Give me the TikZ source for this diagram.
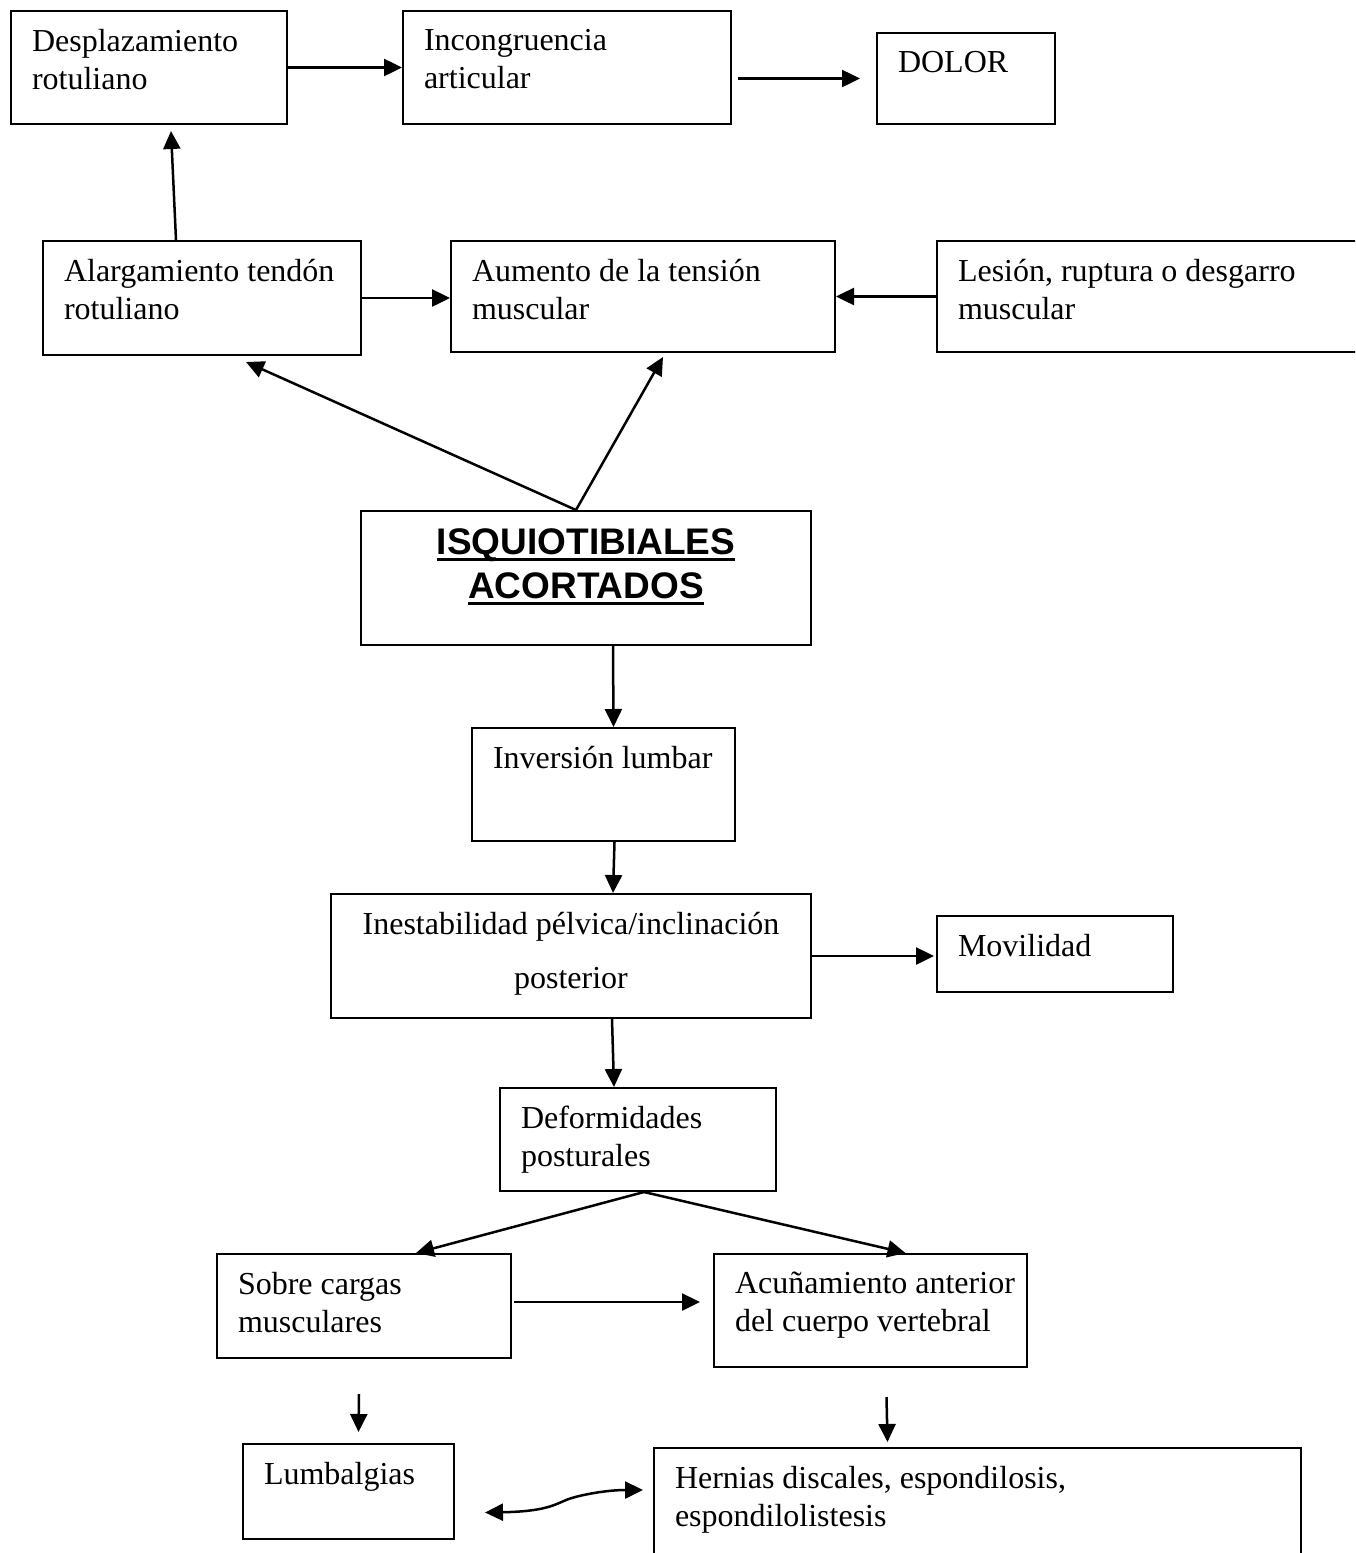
\documentclass[tikz,border=0pt]{standalone}
\usepackage{fontspec}
\setmainfont{Liberation Serif}
\newfontfamily\arial{Liberation Sans}
\usetikzlibrary{arrows.meta}

\tikzstyle{caja} = [draw, line width=2pt, inner xsep=0pt, inner ysep=18pt, anchor=north west]
\tikzstyle{arrow} = [line width=2.5pt,->,>={Triangle[length=18pt,width=17pt]}]

\newcommand{\cajatexto}[3]{\parbox[c][#2][t]{#1}{\raggedright\leftskip=21pt #3}}
\newcommand{\cajacentro}[3]{\parbox[c][#2][t]{#1}{\centering #3}}
\newcommand{\subrayado}[1]{\leavevmode\setbox0\hbox{#1}\rlap{\rule[-6pt]{\wd0}{3pt}}\box0}

\begin{document}
\begin{tikzpicture}[x=1pt, y=-1pt, font=\fontsize{32}{38}\selectfont]
\useasboundingbox (0,0) rectangle (1355,1553);
\clip (0,0) rectangle (1355,1553);

\node (despl) [caja] at (10,10) {\cajatexto{276pt}{77pt}{Desplazamiento\\rotuliano}};
\node (incong) [caja] at (402,10) {\cajatexto{328pt}{77pt}{Incongruencia\\articular}};
\node (dolor) [caja] at (876,32) {\cajatexto{178pt}{55pt}{DOLOR}};

\node (alarg) [caja] at (42,240) {\cajatexto{318pt}{78pt}{Alargamiento tendón\\rotuliano}};
\node (aumento) [caja] at (450,240) {\cajatexto{384pt}{75pt}{Aumento de la tensión\\muscular}};
\node (lesion) [caja] at (936,240) {\cajatexto{440pt}{75pt}{Lesión, ruptura o desgarro\\muscular}};

\node (isquio) [caja] at (360,510) {\cajacentro{450pt}{98pt}{\arial\bfseries\fontsize{37}{44}\selectfont
  \subrayado{ISQUIOTIBIALES}\\\subrayado{ACORTADOS}}};

\node (inversion) [caja] at (471,727) {\cajatexto{263pt}{77pt}{Inversión lumbar}};
\node (inest) [caja] at (330,893) {\cajacentro{480pt}{88pt}{Inestabilidad pélvica/inclinación\\[16pt]posterior}};
\node (movil) [caja] at (936,915) {\cajatexto{236pt}{40pt}{Movilidad}};
\node (deform) [caja] at (499,1087) {\cajatexto{276pt}{67pt}{Deformidades\\posturales}};

\node (sobre) [caja] at (216,1253) {\cajatexto{294pt}{68pt}{Sobre cargas\\musculares}};
\node (acun) [caja] at (713,1253) {\cajatexto{313pt}{77pt}{Acuñamiento anterior\\del cuerpo vertebral}};
\node (lumb) [caja] at (242,1443) {\cajatexto{211pt}{59pt}{Lumbalgias}};
\node (hernias) [caja] at (653,1447) {\cajatexto{647pt}{94pt}{Hernias discales, espondilosis,\\espondilolistesis}};

\draw [arrow] (despl.east) -- (incong.west);
\draw [arrow] ([shift={(6,11)}]incong.east) -- ([xshift=-16]dolor.west);
\draw [arrow] ([xshift=-26]alarg.north) -- ([shift={(22,6)}]despl.south);
\draw [arrow] (alarg.east) -- (alarg.east -| aumento.west);
\draw [arrow] (lesion.west) -- (aumento.east);
\draw [arrow] ([xshift=-10]isquio.north) -- ([shift={(44,6)}]alarg.south);
\draw [arrow] ([xshift=-10]isquio.north) -- ([shift={(20,4)}]aumento.south);
\draw [arrow] ([xshift=27]isquio.south) -- ([xshift=10]inversion.north);
\draw [arrow] ([xshift=11]inversion.south) -- ([xshift=42]inest.north);
\draw [arrow] (inest.east) -- ([shift={(-2,2)}]movil.west);
\draw [arrow] ([xshift=41]inest.south) -- ([xshift=-24]deform.north);
\draw [arrow] ([xshift=6]deform.south) -- ([xshift=52]sobre.north);
\draw [arrow] ([xshift=6]deform.south) -- ([xshift=35]acun.north);
\draw [arrow] ([shift={(2,-4)}]sobre.east) -- ([shift={(-13,-8.5)}]acun.west);
\draw [arrow] ([shift={(-5,35)}]sobre.south) -- ([shift={(10,-11)}]lumb.north);
\draw [arrow] ([shift={(16,29)}]acun.south) -- ([shift={(-90,-5)}]hernias.north);

\coordinate (ida) at ([shift={(30,21)}]lumb.east);
\coordinate (vuelta) at ([shift={(-10,-23)}]hernias.west);
\draw [arrow,<->] (ida) .. controls +(60,-1) and +(-10,4) .. ++(80,-12)
  .. controls +(8,-4) and +(-40,0) .. (vuelta);

\end{tikzpicture}
\end{document}
